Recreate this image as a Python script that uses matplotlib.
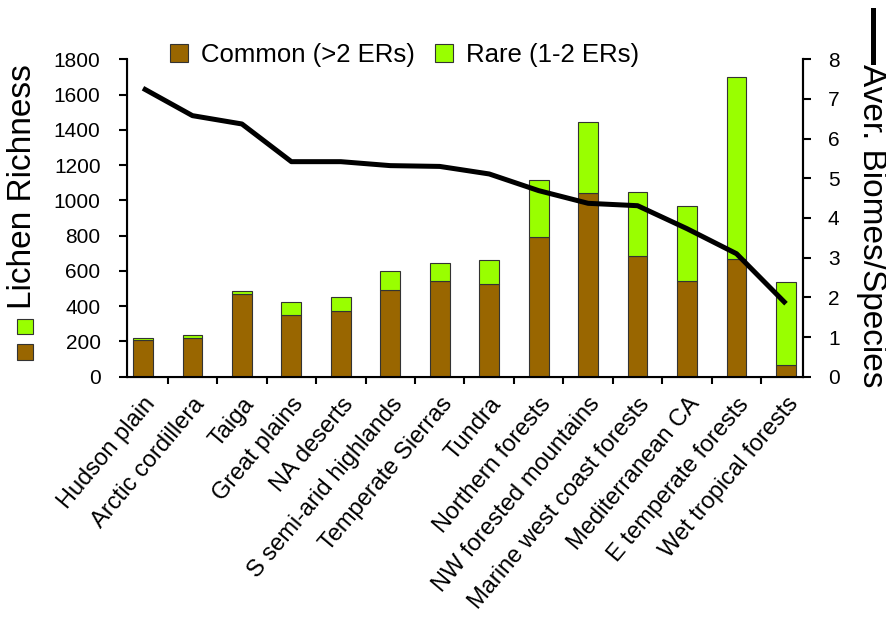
import numpy as np
import matplotlib
matplotlib.use("Agg")
import matplotlib.pyplot as plt
from matplotlib.patches import Rectangle
from matplotlib.lines import Line2D

# -----------------------------
# Datos
# -----------------------------
biomes = [
    "Hudson plain", "Arctic cordillera", "Taiga", "Great plains", "NA deserts",
    "S semi-arid highlands", "Temperate Sierras", "Tundra", "Northern forests",
    "NW forested mountains", "Marine west coast forests", "Mediterranean CA",
    "E temperate forests", "Wet tropical forests",
]
common = [210, 220, 468, 351, 373, 490, 540, 525, 794, 1040, 687, 545, 668, 64]
total = [222, 238, 487, 421, 451, 600, 647, 662, 1117, 1443, 1045, 966, 1700, 536]
aver_biomes = [7.27, 6.58, 6.37, 5.42, 5.42, 5.32, 5.30, 5.11, 4.69, 4.37, 4.31, 3.73, 3.10, 1.84]

rare = [t - c for t, c in zip(total, common)]

BROWN = "#996600"
GREEN = "#99ff00"
EDGE = "#333333"

plt.rcParams["font.family"] = ["Liberation Sans", "DejaVu Sans"]

# -----------------------------
# Figura
# -----------------------------
fig = plt.figure(figsize=(8.87, 6.29), dpi=100)
ax = fig.add_axes([127 / 887, 1 - 376.7 / 629, 676 / 887, 317.4 / 629])

x = np.arange(len(biomes))
ax.bar(x, common, width=0.4, color=BROWN, edgecolor=EDGE, linewidth=0.8,
       label="Common (>2 ERs)")
ax.bar(x, rare, width=0.4, bottom=common, color=GREEN, edgecolor=EDGE,
       linewidth=0.8, label="Rare (1-2 ERs)")

ax.set_xlim(-0.323, 13.344)
ax.set_ylim(0, 1800)
ax.set_yticks(range(0, 1801, 200))
ax.tick_params(axis="y", labelsize=15, direction="out", length=6, width=1.5,
               pad=13)

ax.set_xticks(x)
ax.set_xticklabels(biomes, rotation=50, ha="right", rotation_mode="anchor",
                   fontsize=17)
ax.tick_params(axis="x", which="major", length=0, pad=12)
ax.set_xticks(np.arange(0.5, 13, 1), minor=True)
ax.tick_params(axis="x", which="minor", direction="out", length=5, width=1.5)

ax.spines["top"].set_visible(False)
for s in ["left", "right", "bottom"]:
    ax.spines[s].set_linewidth(1.5)

# eje derecho
ax2 = ax.twinx()
ax2.plot(x, aver_biomes, color="black", linewidth=3.6, solid_capstyle="butt")
ax2.set_ylim(0, 8)
ax2.set_yticks(range(0, 9))
ax2.tick_params(axis="y", labelsize=15, direction="out", length=6, width=1.5,
                pad=12)
ax2.spines["top"].set_visible(False)
ax2.spines["right"].set_linewidth(1.5)

# leyenda superior
handles = [
    Rectangle((0, 0), 1, 1, facecolor=BROWN, edgecolor=EDGE, linewidth=0.8),
    Rectangle((0, 0), 1, 1, facecolor=GREEN, edgecolor=EDGE, linewidth=0.8),
]
fig.legend(handles, ["Common (>2 ERs)", "Rare (1-2 ERs)"], ncol=2,
           loc="center left", bbox_to_anchor=(170 / 887, 1 - 55 / 629),
           frameon=False, fontsize=18.5, handlelength=0.7, handleheight=0.7,
           handletextpad=0.5, columnspacing=0.8, borderaxespad=0, borderpad=0)

# etiquetas de ejes
fig.text(23 / 887, 1 - 187 / 629, "Lichen Richness", rotation=90,
         ha="center", va="center", fontsize=24)
fig.patches.append(Rectangle((17 / 887, 1 - 334 / 629), 16 / 887, 15 / 629,
                             transform=fig.transFigure, facecolor=GREEN,
                             edgecolor=EDGE, linewidth=0.8))
fig.patches.append(Rectangle((17 / 887, 1 - 360 / 629), 16 / 887, 16 / 629,
                             transform=fig.transFigure, facecolor=BROWN,
                             edgecolor=EDGE, linewidth=0.8))

fig.text(872 / 887, 1 - 64 / 629, "Aver. Biomes/Species", rotation=270,
         ha="center", va="top", fontsize=24)
fig.lines.append(Line2D([873 / 887, 873 / 887], [1 - 10 / 629, 1 - 62 / 629],
                        transform=fig.transFigure, color="black", linewidth=3.6))

fig.savefig("out.png", dpi=100)
